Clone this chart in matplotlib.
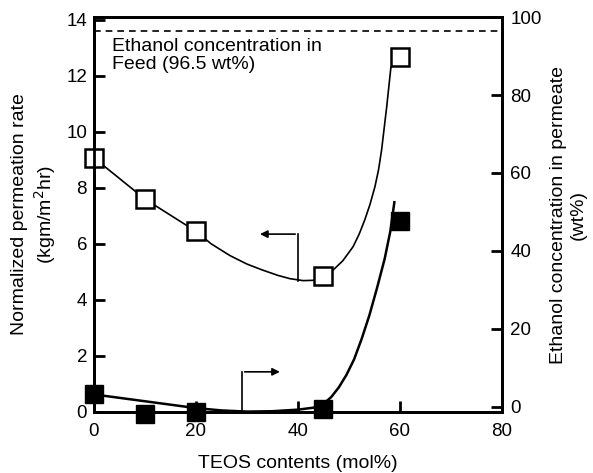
import matplotlib.pyplot as plt

plt.rcParams['font.family'] = ['Liberation Sans', 'DejaVu Sans']

# measured points
teos = [0, 10, 20, 45, 60]
perm_rate = [9.07, 7.6, 6.45, 4.86, 12.68]          # kgm/m2hr (left axis)
ethanol_perm = [3.2, -1.8, -1.3, -0.6, 47.7]        # wt% (right axis)

# hand-drawn guide curves
rate_curve_x = [0, 10, 20, 23, 26.7, 30, 33, 36, 38.4, 41, 43, 45, 46.9, 48.8, 50.8,
                52, 53.1, 54.1, 55.1, 55.8, 56.4, 57.4, 58.2, 59.3]
rate_curve_y = [9.07, 7.6, 6.45, 6.0, 5.58, 5.28, 5.07, 4.88, 4.76, 4.69, 4.7, 4.8, 5.07,
                5.4, 5.9, 6.35, 6.86, 7.4, 8.05, 8.65, 9.36, 10.9, 12.27, 12.68]
eth_curve_x = [0, 20, 25, 30, 35, 40, 43, 45, 46.5, 48, 49.5, 51, 52.5, 54, 55.5, 57, 58.1, 58.9]
eth_curve_y = [3.2, -0.3, -0.9, -1.2, -1.1, -0.7, -0.2, 0.8, 2.5, 5.0, 8.2, 12.2, 17.5,
               23.5, 30.5, 38.0, 45.0, 52.5]

feed_conc = 96.5

fig = plt.figure(figsize=(5.93, 4.73), dpi=100)
ax = fig.add_axes([0.1585, 0.129, 0.688, 0.835])
ax2 = ax.twinx()

ax.plot(rate_curve_x, rate_curve_y, color='black', lw=1.2, zorder=2)
ax.plot(teos, perm_rate, 's', ms=13, mfc='white', mec='black', mew=1.8, zorder=3, clip_on=False)

ax2.plot(eth_curve_x, eth_curve_y, color='black', lw=1.8, zorder=2)
ax2.plot(teos, ethanol_perm, 's', ms=13, mfc='black', mec='black', zorder=3, clip_on=False)
ax2.axhline(feed_conc, color='black', ls=(0, (4, 3)), lw=1.2)

ax2.text(3.5, 94.5, 'Ethanol concentration in\nFeed (96.5 wt%)', fontsize=14,
         va='top', ha='left', linespacing=1.05)

# bent arrows pointing to the axis of each series
ax.plot([40, 40], [4.69, 6.35], color='black', lw=1.2)
ax.annotate('', xy=(32, 6.35), xytext=(40, 6.35),
            arrowprops=dict(arrowstyle='-|>', color='black', lw=1.2, mutation_scale=11))
ax2.plot([29, 29], [-1.2, 9], color='black', lw=1.2)
ax2.annotate('', xy=(37, 9), xytext=(29, 9),
             arrowprops=dict(arrowstyle='-|>', color='black', lw=1.2, mutation_scale=11))

ax.set_xlim(0, 80)
ax.set_ylim(0, 14.1)
ax2.set_ylim(-1.3, 100)
ax.set_xticks([0, 20, 40, 60, 80])
ax.set_yticks(range(0, 15, 2))
ax2.set_yticks(range(0, 101, 20))

for a in (ax, ax2):
    for s in a.spines.values():
        s.set_linewidth(2)
ax.tick_params(axis='both', direction='in', length=8, width=2, labelsize=13.5, pad=5)
ax.tick_params(axis='x', pad=8)
ax2.tick_params(axis='y', direction='in', length=8, width=2, labelsize=13.5, pad=6)

ax.set_xlabel('TEOS contents (mol%)', fontsize=14, labelpad=11)
ax.set_ylabel('Normalized permeation rate\n(kgm/m$^2$hr)', fontsize=14, labelpad=6)
ax2.set_ylabel('Ethanol concentration in permeate\n(wt%)', fontsize=14, labelpad=6)

fig.savefig('out.png', dpi=100)
